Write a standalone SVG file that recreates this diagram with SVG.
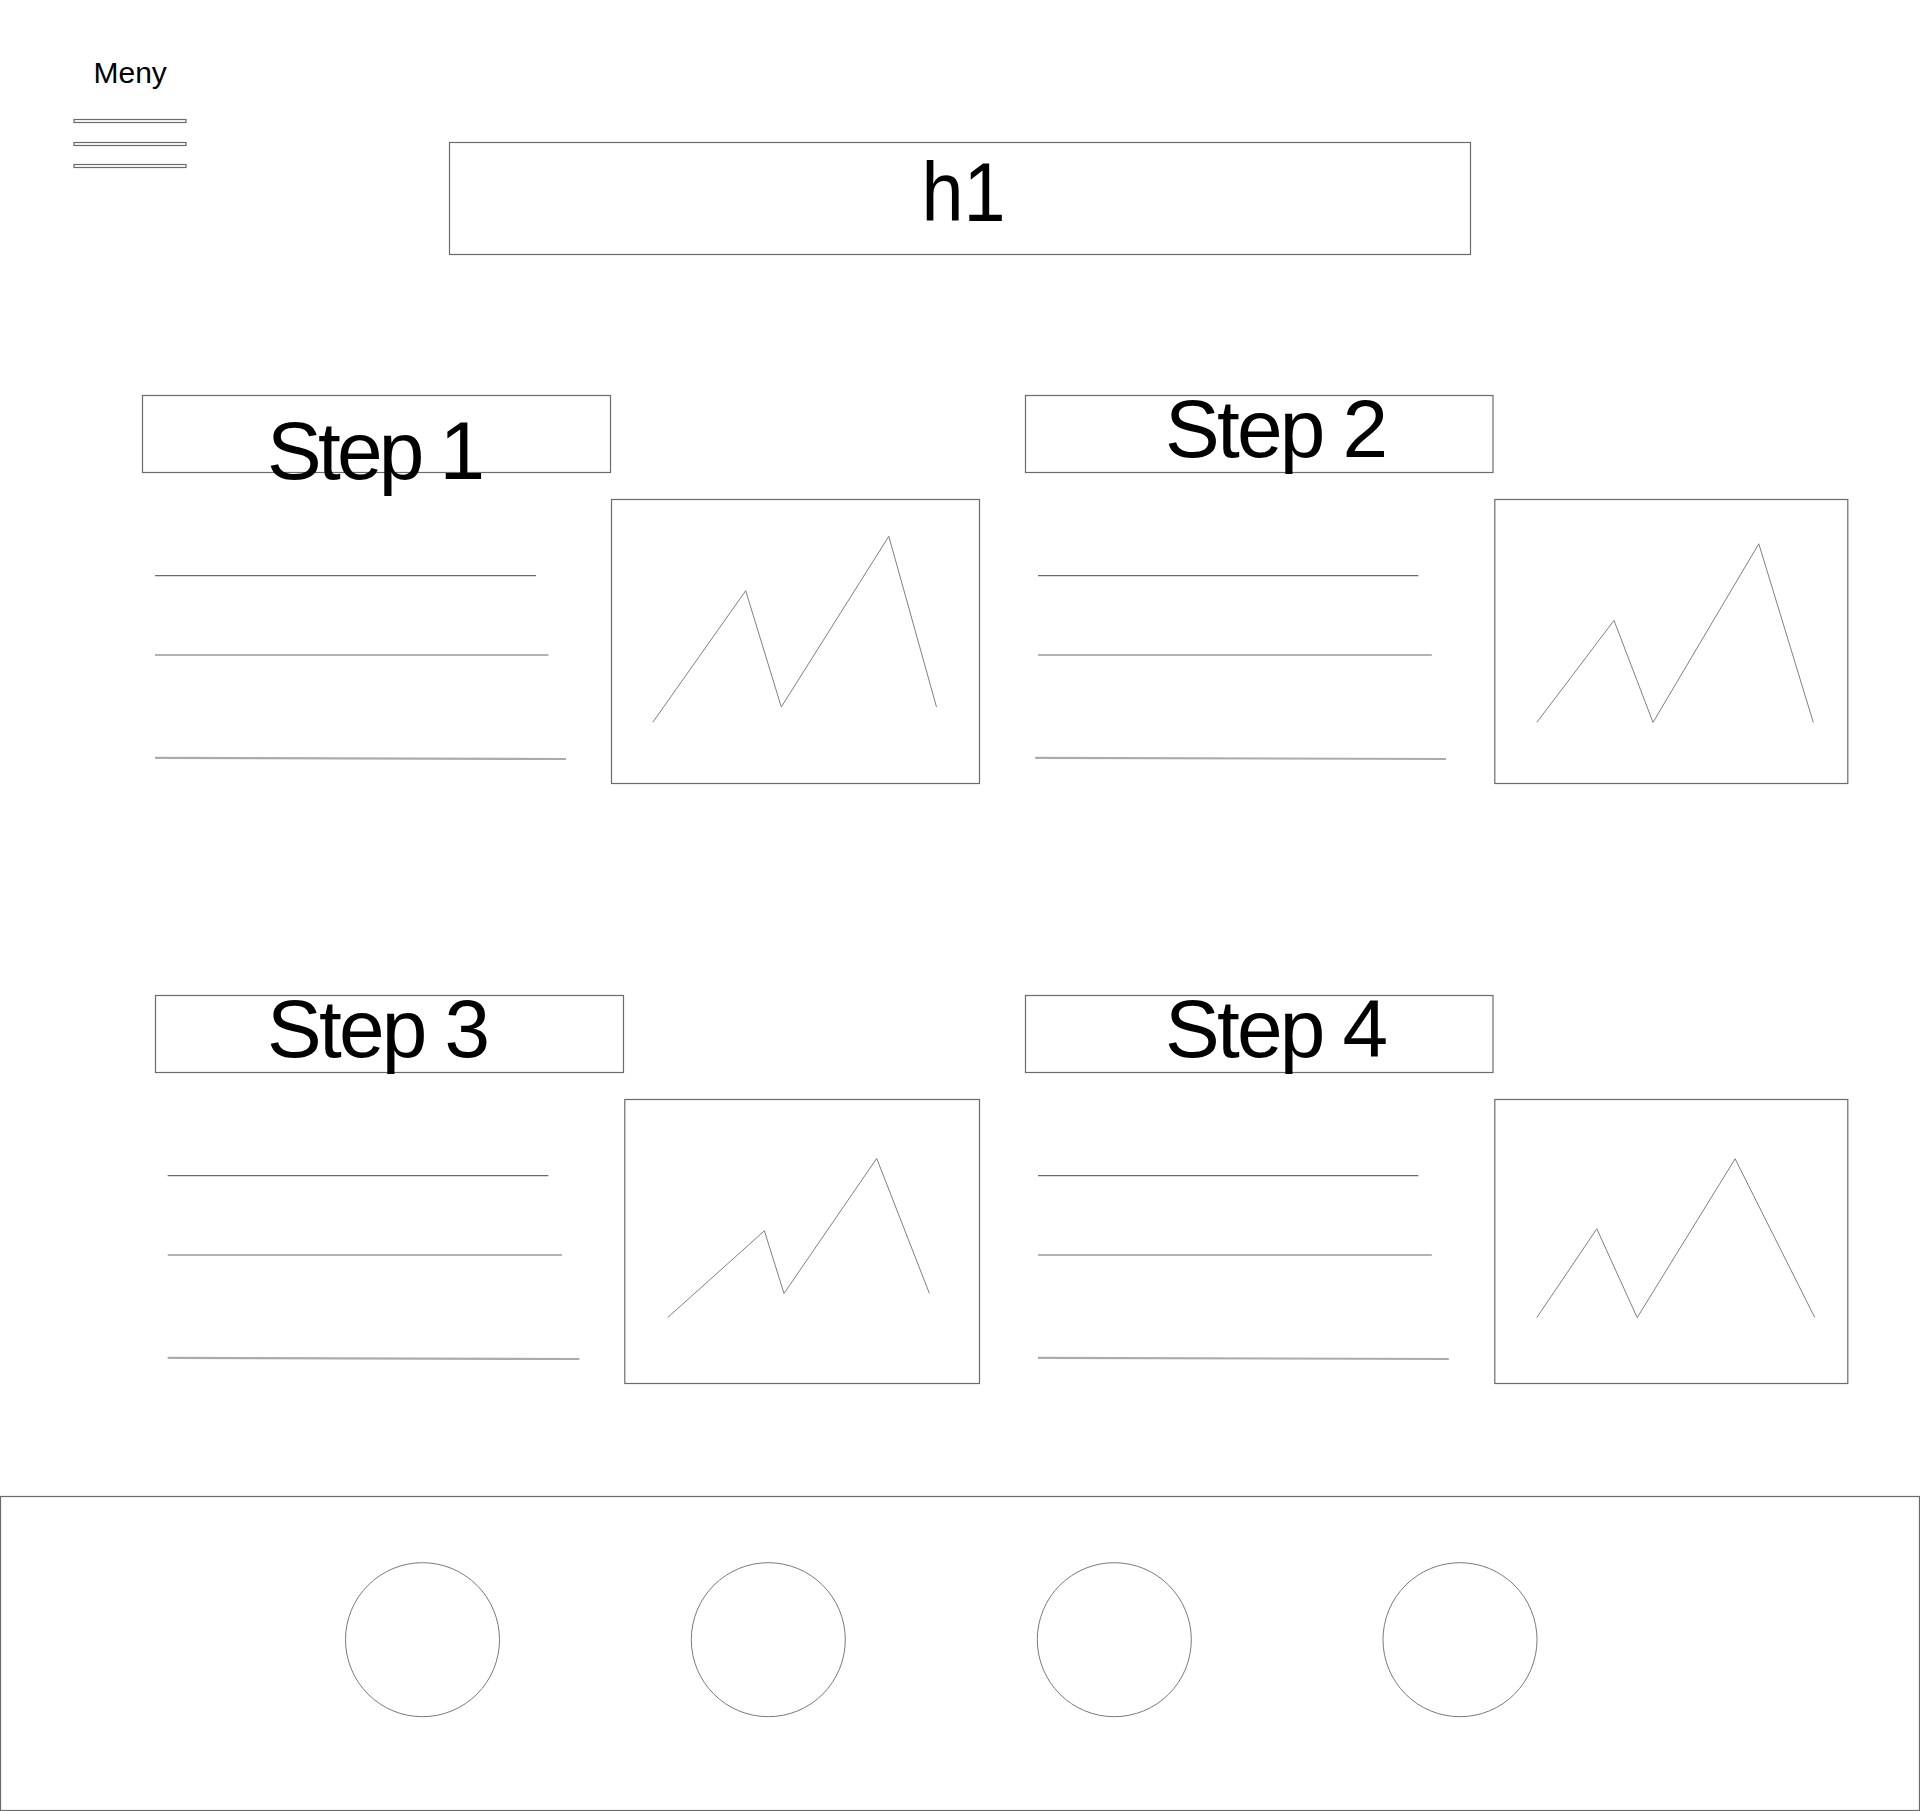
<svg xmlns="http://www.w3.org/2000/svg" width="1920" height="1811" viewBox="0 0 1920 1811">
<style>
.box{fill:#fff;stroke:#6b6b6b;stroke-width:1.2}
.pic{fill:none;stroke:#808080;stroke-width:1}
.l1{stroke:#6b6b6b;stroke-width:1.2}
.l2{stroke:#b3b3b3;stroke-width:2.2}
.l3{stroke:#ababab;stroke-width:2.2}
.step{font-family:"Liberation Sans",Arial,sans-serif;font-size:82px;fill:#000;letter-spacing:-2.8px}
.circ{fill:none;stroke:#7a7a7a;stroke-width:1}
</style>
<rect width="1920" height="1811" fill="#fff"/>
<g id="menu">
<text x="93.5" y="83.3" font-family="Liberation Sans, Arial, sans-serif" font-size="30" fill="#000">Meny</text>
<rect class="box" x="74" y="119.5" width="112" height="3"/>
<rect class="box" x="74" y="142.5" width="112" height="3"/>
<rect class="box" x="74" y="164.5" width="112" height="3"/>
</g>
<g id="h1">
<rect class="box" x="449.5" y="142.5" width="1021" height="112"/>
<text x="921.5" y="221" font-family="Liberation Sans, Arial, sans-serif" font-size="84" textLength="84" lengthAdjust="spacingAndGlyphs" fill="#000">h1</text>
</g>
<g id="step1">
<rect class="box" x="142.5" y="395.5" width="468" height="77"/>
<text class="step" x="267" y="479.3" style="letter-spacing:-3.8px">Step 1</text>
<line class="l1" x1="155" y1="575.7" x2="536" y2="575.7"/>
<line class="l2" x1="155" y1="655" x2="548.5" y2="655"/>
<line class="l3" x1="155" y1="757.8" x2="566" y2="759"/>
<rect class="box" x="611.5" y="499.5" width="368" height="284"/>
<polyline class="pic" points="652.8,722.3 745.7,590.7 781.3,707 888.8,536.3 936.5,707"/>
</g>
<g id="step2">
<rect class="box" x="1025.5" y="395.5" width="467.5" height="77"/>
<text class="step" x="1165" y="456.7">Step 2</text>
<line class="l1" x1="1038" y1="575.7" x2="1418.3" y2="575.7"/>
<line class="l2" x1="1038" y1="655" x2="1431.8" y2="655"/>
<line class="l3" x1="1035.2" y1="757.8" x2="1446" y2="759"/>
<rect class="box" x="1494.8" y="499.5" width="353" height="284"/>
<polyline class="pic" points="1536.8,722.4 1614,620.4 1653,722.4 1758.8,543.8 1813.3,722.4"/>
</g>
<g id="step3">
<rect class="box" x="155.5" y="995.5" width="468" height="77"/>
<text class="step" x="267" y="1056.7">Step 3</text>
<line class="l1" x1="167.7" y1="1175.7" x2="548.3" y2="1175.7"/>
<line class="l2" x1="167.7" y1="1255" x2="562" y2="1255"/>
<line class="l3" x1="167.7" y1="1357.8" x2="579.3" y2="1359"/>
<rect class="box" x="624.8" y="1099.5" width="354.7" height="284"/>
<polyline class="pic" points="667.6,1317.6 764.4,1230.8 784,1293.4 876.7,1158.4 929.4,1293.4"/>
</g>
<g id="step4">
<rect class="box" x="1025.5" y="995.5" width="467.5" height="77"/>
<text class="step" x="1165" y="1056.7">Step 4</text>
<line class="l1" x1="1038" y1="1175.7" x2="1418.3" y2="1175.7"/>
<line class="l2" x1="1038" y1="1255" x2="1431.8" y2="1255"/>
<line class="l3" x1="1038" y1="1357.8" x2="1448.8" y2="1359"/>
<rect class="box" x="1494.8" y="1099.5" width="353" height="284"/>
<polyline class="pic" points="1536.8,1317.6 1596.8,1228.8 1637.2,1317.6 1735.1,1158.8 1814.8,1317.6"/>
</g>
<g id="footer">
<rect class="box" x="0.5" y="1496.5" width="1919" height="314"/>
<circle class="circ" cx="422.5" cy="1639.7" r="77"/>
<circle class="circ" cx="768.3" cy="1639.7" r="77"/>
<circle class="circ" cx="1114.3" cy="1639.7" r="77"/>
<circle class="circ" cx="1460" cy="1639.7" r="77"/>
</g>
<g id="connectors"></g>
</svg>
